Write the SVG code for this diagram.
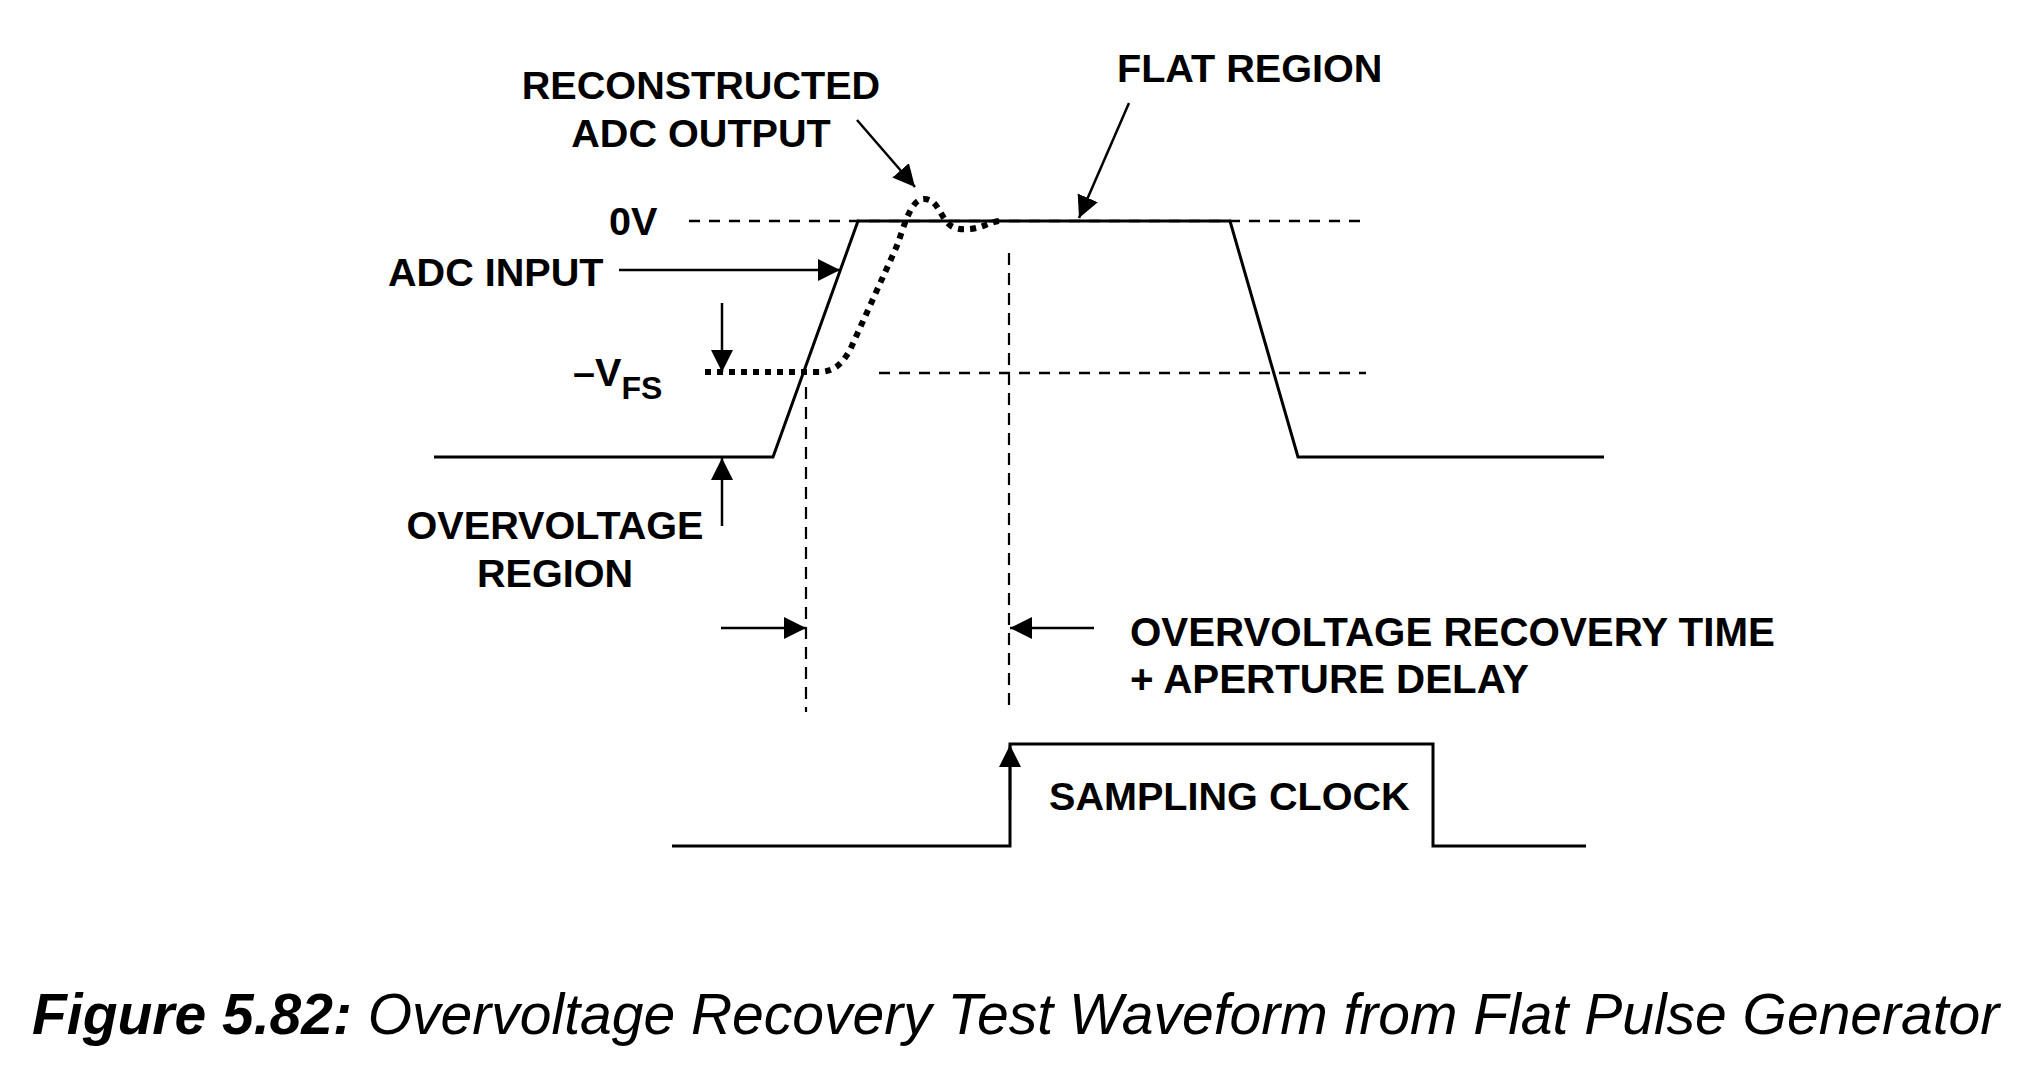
<svg xmlns="http://www.w3.org/2000/svg" width="2018" height="1077" viewBox="0 0 2018 1077">
<style>
.lbl{font-family:"Liberation Sans",Arial,sans-serif;font-weight:bold;font-size:39.6px;fill:#000}
.cap{font-family:"Liberation Sans",Arial,sans-serif;font-style:italic;font-size:57px;fill:#000}
.wave{fill:none;stroke:#000;stroke-width:3;stroke-linejoin:miter}
.hdash{fill:none;stroke:#000;stroke-width:2.5;stroke-dasharray:11 9}
.vdash{fill:none;stroke:#000;stroke-width:2.2;stroke-dasharray:12 8}
.dots{fill:none;stroke:#000;stroke-width:6;stroke-dasharray:6 6}
.arr{fill:none;stroke:#000;stroke-width:2.5;marker-end:url(#ah)}
</style>
<defs>
<marker id="ah" markerUnits="userSpaceOnUse" markerWidth="24" markerHeight="24" refX="22" refY="11" orient="auto">
<path d="M0,0 L22,11 L0,22 z" fill="#000"/>
</marker>
</defs>
<rect width="2018" height="1077" fill="#fff"/>

<g id="reference-lines">
<line class="hdash" x1="689" y1="221" x2="1366" y2="221"/>
<line class="hdash" x1="879" y1="373" x2="1366" y2="373"/>
<line class="vdash" x1="806" y1="387" x2="806" y2="712"/>
<line class="vdash" x1="1009" y1="253" x2="1009" y2="712"/>
</g>

<g id="adc-input-waveform">
<polyline class="wave" points="434,457 773,457 858,221 1230,221 1298,457 1604,457"/>
</g>

<g id="adc-output-waveform">
<path class="dots" d="M705,372 H818 C834,372 842,364 850,350 L896,248 C904,228 910,199 924,199 C936,199 939,212 946,221 C952,229 960,230 970,229 C982,228 990,222 999,221"/>
</g>

<g id="sampling-clock">
<polyline class="wave" points="672,846 1010,846 1010,744 1433,744 1433,846 1586,846"/>
</g>

<g id="connectors">
<line class="arr" x1="857" y1="120" x2="915" y2="187"/>
<line class="arr" x1="1129" y1="103" x2="1079" y2="218"/>
<line class="arr" x1="619" y1="270" x2="840" y2="270"/>
<line class="arr" x1="722" y1="303" x2="722" y2="372"/>
<line class="arr" x1="722" y1="526" x2="722" y2="458"/>
<line class="arr" x1="721" y1="628" x2="806" y2="628"/>
<line class="arr" x1="1094" y1="628" x2="1010" y2="628"/>
<line class="arr" x1="1010" y1="800" x2="1010" y2="745"/>
</g>

<g id="label-reconstructed">
<text class="lbl" x="701" y="99" text-anchor="middle">RECONSTRUCTED</text>
<text class="lbl" x="701" y="147" text-anchor="middle">ADC OUTPUT</text>
</g>
<g id="label-flat-region">
<text class="lbl" x="1117" y="82">FLAT REGION</text>
</g>
<g id="label-0v">
<text class="lbl" x="609" y="235">0V</text>
</g>
<g id="label-adc-input">
<text class="lbl" x="388" y="286">ADC INPUT</text>
</g>
<g id="label-vfs">
<text class="lbl" x="573" y="386">–V<tspan font-size="32" dy="13">FS</tspan></text>
</g>
<g id="label-overvoltage-region">
<text class="lbl" x="555" y="539" text-anchor="middle">OVERVOLTAGE</text>
<text class="lbl" x="555" y="587" text-anchor="middle">REGION</text>
</g>
<g id="label-recovery">
<text class="lbl" x="1130" y="646" style="font-size:40.3px">OVERVOLTAGE RECOVERY TIME</text>
<text class="lbl" x="1130" y="693" style="font-size:40.3px">+ APERTURE DELAY</text>
</g>
<g id="label-sampling-clock">
<text class="lbl" x="1049" y="810">SAMPLING CLOCK</text>
</g>
<g id="caption">
<text class="cap" x="32" y="1034"><tspan font-weight="bold">Figure 5.82:</tspan> Overvoltage Recovery Test Waveform from Flat Pulse Generator</text>
</g>
</svg>
